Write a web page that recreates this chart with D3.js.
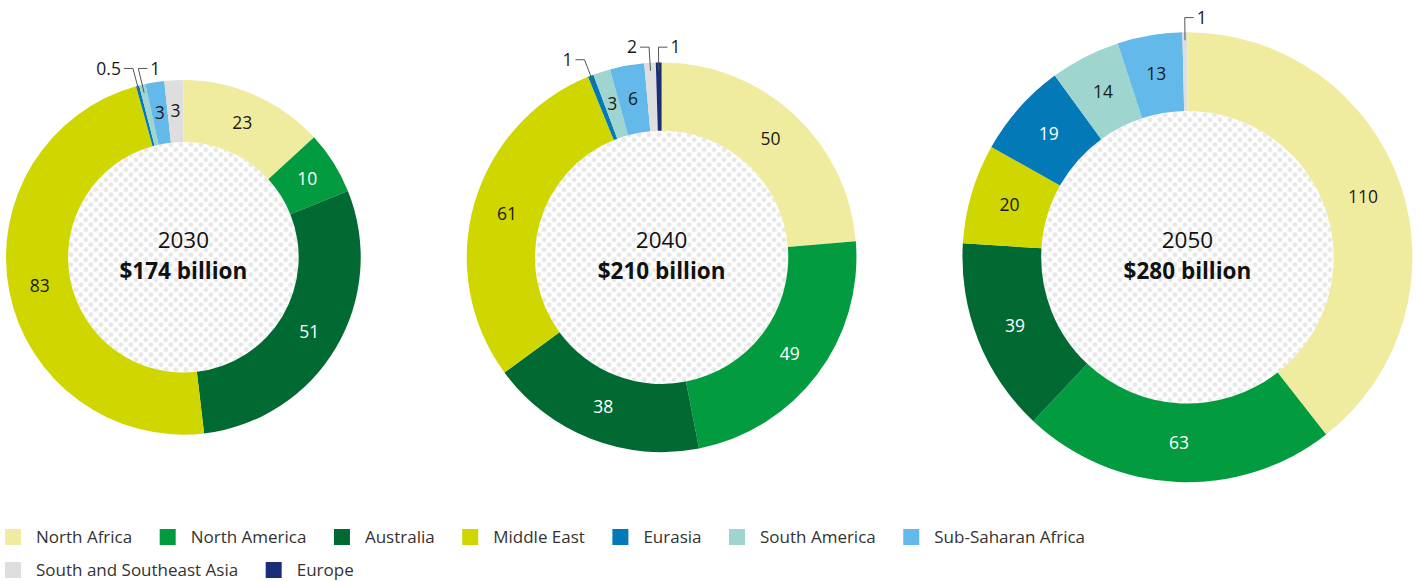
<!DOCTYPE html>
<html>
<head>
<meta charset="utf-8">
<script src="https://cdn.jsdelivr.net/npm/d3@7"></script>
<style>
  body { margin: 0; background: #fff; }
  svg { display: block; font-family: "Open Sans", sans-serif; }
</style>
</head>
<body>
<div id="chart"></div>
<script>
const regions = ["North Africa", "North America", "Australia", "Middle East", "Eurasia",
  "South America", "Sub-Saharan Africa", "South and Southeast Asia", "Europe"];
const regionColors = ["#efec9f", "#039b3f", "#006a32", "#cfd600", "#0479b7",
  "#9fd5cf", "#63b9e9", "#dedede", "#1a2e78"];
const darkRegions = ["North America", "Australia", "Eurasia", "Europe"];

const years = ["2030", "2040", "2050"];
const totals = [174, 210, 280];
const values2030 = [23, 10, 51, 83, 0.5, 1, 3, 3, 0];
const values2040 = [50, 49, 38, 61, 1, 3, 6, 2, 1];
const values2050 = [110, 63, 39, 20, 19, 14, 13, 1, 0];
const allValues = [values2030, values2040, values2050];

// small slices labelled with a leader line above the ring
const callouts = [
  { year: "2030", region: "Eurasia", side: -1, lift: 11.5 },
  { year: "2030", region: "South America", side: 1, lift: 11.5 },
  { year: "2040", region: "Eurasia", side: -1, lift: 2.7 },
  { year: "2040", region: "South and Southeast Asia", side: -1, lift: 15.3 },
  { year: "2040", region: "Europe", side: 1, lift: 15.3 },
  { year: "2050", region: "South and Southeast Asia", side: 1, lift: 14.7 }
];

const width = 1419, height = 581;
const cy = 257.3;
const labelSize = 17.5;

const svg = d3.select("#chart").append("svg")
  .attr("width", width)
  .attr("height", height);

// dotted fill for the donut holes
const defs = svg.append("defs");
const pat = defs.append("pattern")
  .attr("id", "dots")
  .attr("patternUnits", "userSpaceOnUse")
  .attr("width", 10).attr("height", 10);
pat.append("rect").attr("width", 10).attr("height", 10).attr("fill", "#fff");
pat.append("circle").attr("cx", 2.5).attr("cy", 2.5).attr("r", 2.4).attr("fill", "#e6e6e6");
pat.append("circle").attr("cx", 7.5).attr("cy", 7.5).attr("r", 2.4).attr("fill", "#e6e6e6");

const color = d3.scaleOrdinal().domain(regions).range(regionColors);
const radius = d3.scaleSqrt().domain([0, 280]).range([0, 225]);
const innerRatio = 0.65;

const pie = d3.pie().sort(null).value(d => d.value);

// place donuts side by side, left edge at 6, gap 106
let left = 6;
const centers = totals.map(t => {
  const r = radius(t);
  const c = left + r;
  left += 2 * r + 106;
  return c;
});

years.forEach((year, i) => {
  const outer = radius(totals[i]);
  const inner = outer * innerRatio;
  const data = regions.map((region, j) => ({ region, value: allValues[i][j] }));
  const arcs = pie(data).filter(d => d.data.value > 0);
  const arc = d3.arc().innerRadius(inner).outerRadius(outer);

  const g = svg.append("g")
    .attr("transform", `translate(${centers[i]},${cy})`);

  g.append("circle")
    .attr("r", inner)
    .attr("fill", "url(#dots)");

  g.selectAll("path.slice")
    .data(arcs)
    .join("path")
      .attr("class", "slice")
      .attr("d", arc)
      .attr("fill", d => color(d.data.region));

  const calloutRegions = callouts.filter(c => c.year === year).map(c => c.region);

  g.selectAll("text.val")
    .data(arcs.filter(d => !calloutRegions.includes(d.data.region)))
    .join("text")
      .attr("class", "val")
      .attr("transform", d => `translate(${arc.centroid(d)})`)
      .attr("text-anchor", "middle")
      .attr("dy", "0.35em")
      .attr("font-size", labelSize)
      .attr("fill", d => darkRegions.includes(d.data.region) ? "#fff" : "#1a1a1a")
      .text(d => d.data.value);

  callouts.filter(c => c.year === year).forEach(c => {
    const d = arcs.find(a => a.data.region === c.region);
    const a = (d.startAngle + d.endAngle) / 2;
    const r0 = outer - 8;
    const sx = Math.sin(a) * r0, sy = -Math.cos(a) * r0;
    const ey = -(outer + c.lift);
    const ex = Math.sin(a) * (outer + c.lift) / Math.cos(a);
    const hx = ex + c.side * 9;
    g.append("path")
      .attr("d", `M${sx},${sy}L${ex},${ey}L${hx},${ey}`)
      .attr("fill", "none")
      .attr("stroke", "#555")
      .attr("stroke-width", 1);
    g.append("text")
      .attr("x", hx + c.side * 3)
      .attr("y", ey)
      .attr("dy", "0.35em")
      .attr("text-anchor", c.side < 0 ? "end" : "start")
      .attr("font-size", labelSize)
      .attr("fill", "#1a1a1a")
      .text(d.data.value);
  });

  g.append("text")
    .attr("y", -9)
    .attr("text-anchor", "middle")
    .attr("font-size", 22.5)
    .attr("fill", "#111")
    .text(year);

  g.append("text")
    .attr("y", 22)
    .attr("text-anchor", "middle")
    .attr("font-size", 22.5)
    .attr("font-weight", "bold")
    .attr("fill", "#111")
    .text(`$${totals[i]} billion`);
});

// Legend
const legend = svg.append("g");
const rowY = [537, 570];
let lx = 5, row = 0;
regions.forEach((region, i) => {
  if (i === 7) { row = 1; lx = 5; }
  const item = legend.append("g")
    .attr("transform", `translate(${lx},${rowY[row]})`);
  item.append("rect")
    .attr("y", -8)
    .attr("width", 16).attr("height", 16)
    .attr("fill", color(region));
  const t = item.append("text")
    .attr("x", 31)
    .attr("dy", "0.35em")
    .attr("font-size", 17)
    .attr("fill", "#333")
    .text(region);
  lx += 31 + t.node().getComputedTextLength() + 27.5;
});
</script>
</body>
</html>
